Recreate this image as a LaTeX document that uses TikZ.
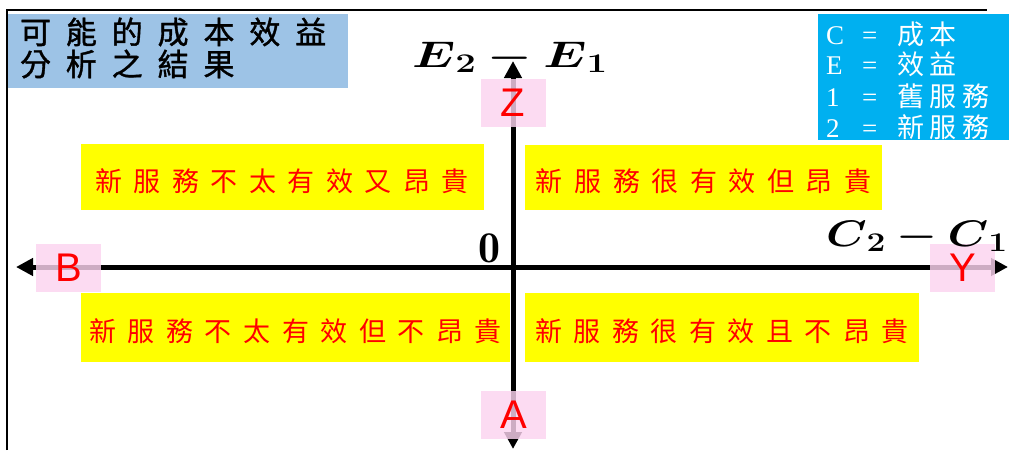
\RequirePackage{fix-cm}
\documentclass[tikz,border=0pt]{standalone}
\usepackage{fontspec}
\usepackage{amsmath}
\usepackage{graphicx}
\newfontfamily\cjkq[LetterSpace=42.6]{Noto Sans CJK TC}
\newfontfamily\cjkt[LetterSpace=48,FakeBold=1.2]{Noto Sans CJK TC}
\newfontfamily\cjkl[LetterSpace=22]{Noto Sans CJK TC}
\newfontfamily\lserif{Liberation Serif}
\newfontfamily\lsans{Liberation Sans}
\usetikzlibrary{arrows.meta}
\definecolor{titleblue}{HTML}{9DC3E6}
\definecolor{legendblue}{HTML}{00B0F0}
\definecolor{pinkbox}{HTML}{FBD3EF}
\definecolor{ybox}{HTML}{FFFF00}
\definecolor{redtxt}{HTML}{FF0000}
\tikzset{
  every node/.style={inner sep=0pt, outer sep=0pt},
  yellowbox/.style={fill=ybox, draw=none},
  quadtext/.style={text=redtxt, font=\cjkq\fontsize{27}{27}\selectfont},
  pinkrect/.style={fill=pinkbox, fill opacity=0.82, draw=none, minimum width=65pt, minimum height=48pt},
  letter/.style={text=redtxt, font=\lsans\fontsize{40}{40}\selectfont},
  axis/.style={line width=5pt, {Triangle[length=17pt,width=17pt]}-{Triangle[length=17pt,width=17pt]}},
  legtext/.style={text=white, anchor=west},
  titletext/.style={text=black, anchor=west, font=\cjkt\fontsize{31}{31}\selectfont},
}
\newcommand\qt[1]{#1\hspace{-11.5pt}}
\newcommand\legline[2]{{\lserif\fontsize{27}{27}\selectfont\makebox[36pt][l]{#1}\makebox[35pt][l]{=}}{\cjkl\fontsize{27}{27}\selectfont #2}}
\newcommand\sub[1]{_{\text{\fontsize{27}{27}\selectfont\bfseries #1}}}
\begin{document}
\begin{tikzpicture}[x=1pt,y=-1pt]
\useasboundingbox (0,0) rectangle (1009,450);
% frame
\coordinate (fbl) at (7,450);
\coordinate (ftl) at (7,10);
\coordinate (ftr) at (987,10);
\draw[line width=1.5pt] (fbl) -- (ftl) -- (ftr);
% title
\node[fill=titleblue, anchor=north west, minimum width=340pt, minimum height=74pt] (title) at (8,14) {};
\node[titletext] (title1) at (20,32) {可能的成本效益};
\node[titletext] (title2) at (20,64) {分析之結果};
% legend
\node[fill=legendblue, anchor=north west, minimum width=191pt, minimum height=126pt] (legend) at (818,14) {};
\node[legtext] (leg1) at (826,34) {\legline{C}{成本}};
\node[legtext] (leg2) at (826,64) {\legline{E}{效益}};
\node[legtext] (leg3) at (826,96) {\legline{1}{舊服務}};
\node[legtext] (leg4) at (826,127) {\legline{2}{新服務}};
% quadrant boxes
\node[yellowbox, minimum width=403pt, minimum height=66pt] (q1) at (282,177) {};
\node[yellowbox, minimum width=357pt, minimum height=65pt] (q2) at (703.5,177.5) {};
\node[yellowbox, minimum width=429pt, minimum height=69pt] (q3) at (295.5,327.5) {};
\node[yellowbox, minimum width=394pt, minimum height=69pt] (q4) at (722,327.5) {};
\node[quadtext] (q1t) at ([yshift=-4pt]q1.center) {\qt{新服務不太有效又昂貴}};
\node[quadtext] (q2t) at ([yshift=-4pt]q2.center) {\qt{新服務很有效但昂貴}};
\node[quadtext] (q3t) at ([yshift=-4pt]q3.center) {\qt{新服務不太有效但不昂貴}};
\node[quadtext] (q4t) at ([yshift=-4pt]q4.center) {\qt{新服務很有效且不昂貴}};
% axes
\coordinate (xl) at (16,267);
\coordinate (xr) at (1008,267);
\coordinate (yt) at (513,61);
\coordinate (yb) at (513,449);
\draw[axis] (xl) -- (xr);
\draw[axis] (yb) -- (yt);
% pink boxes and letters
\node[pinkrect] (pz) at (513,103) {};
\node[pinkrect] (pb) at (68.5,268) {};
\node[pinkrect] (py) at (962.5,268) {};
\node[pinkrect] (pa) at (513.5,415) {};
\node[letter] (lz) at (pz.center) {Z};
\node[letter] (lb) at (pb.center) {B};
\node[letter] (ly) at (py.center) {Y};
\node[letter] (la) at (pa.center) {A};
% axis labels
\node[anchor=base] (elab) at (510,67) {\scalebox{1.35}[1]{\fontsize{37}{37}\selectfont$\boldsymbol{E}\sub{2} \boldsymbol{-} \boldsymbol{E}\sub{1}$}};
\node[anchor=base west] (clab) at (826,246) {\scalebox{1.24}[1]{\fontsize{37}{37}\selectfont$\boldsymbol{C}\sub{2} \boldsymbol{-} \boldsymbol{C}\sub{1}$}};
\node[anchor=base] (zero) at (489,262) {\fontsize{44}{44}\selectfont$\mathbf{0}$};
\end{tikzpicture}
\end{document}
